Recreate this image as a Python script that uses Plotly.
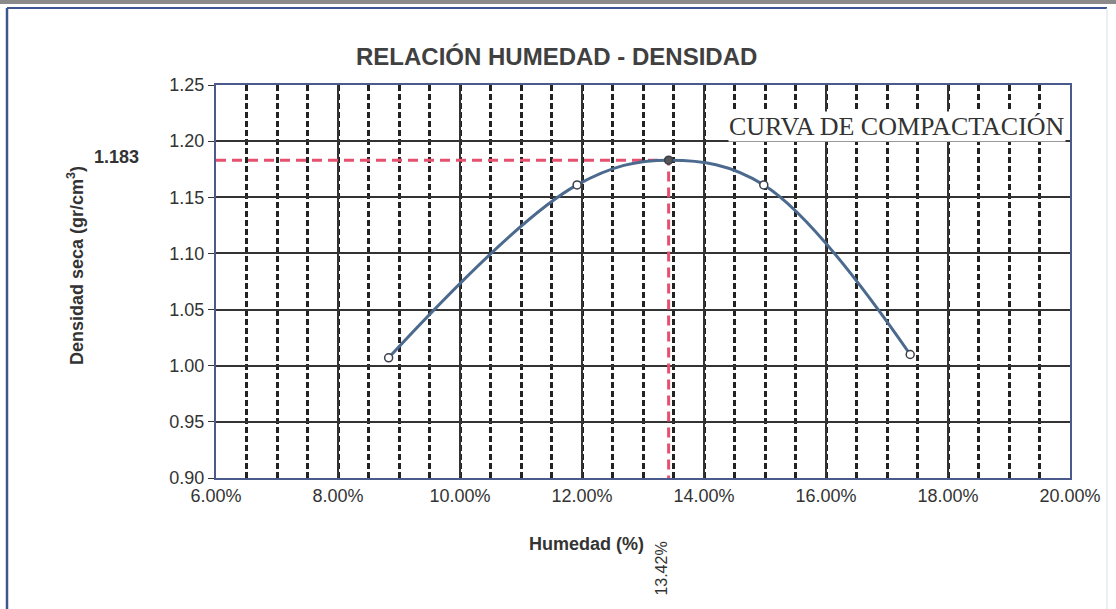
import plotly.graph_objects as go

# Data
humedad = [0.0883, 0.1192, 0.1342, 0.1498, 0.1738]
densidad = [1.007, 1.161, 1.183, 1.161, 1.010]
opt_humedad = 0.1342
max_densidad = 1.183
x_ticks = [0.06, 0.08, 0.10, 0.12, 0.14, 0.16, 0.18, 0.20]
y_ticks = [0.90, 0.95, 1.00, 1.05, 1.10, 1.15, 1.20, 1.25]

W, H = 1116, 609
L, R, T, B = 216, 1070, 85, 478

def px(xp):
    return (xp - L) / (R - L)

def py(yp):
    return (B - yp) / (B - T)

FONT = "Liberation Sans, Arial"
TXT = "#333333"

fig = go.Figure()

# optimum reference lines
fig.add_trace(go.Scatter(
    x=[x_ticks[0], opt_humedad, opt_humedad],
    y=[max_densidad, max_densidad, y_ticks[0]],
    mode="lines",
    line=dict(color="#e8506e", width=3, dash="10px,6px"),
    hoverinfo="skip", showlegend=False))

# compaction curve
fig.add_trace(go.Scatter(
    x=humedad, y=densidad, mode="lines+markers",
    line=dict(color="#4b6a8e", width=3, shape="spline", smoothing=1.05),
    marker=dict(size=8, color=["white", "white", "#555555", "white", "white"],
                line=dict(color="#3a3f4a", width=1.5)),
    showlegend=False))

grid_col = "#333333"
fig.update_xaxes(
    range=[x_ticks[0], x_ticks[-1]], tickvals=x_ticks, tickformat=".2%",
    showgrid=True, gridcolor=grid_col, gridwidth=2,
    minor=dict(dtick=0.005, showgrid=True, gridcolor="#222222", gridwidth=2.5,
               griddash="6px,3px"),
    showline=True, linecolor="#4a5a8c", linewidth=2, mirror=True,
    ticks="", tickfont=dict(family=FONT, size=18, color=TXT),
    zeroline=False)
fig.update_yaxes(
    range=[y_ticks[0], y_ticks[-1]], tickvals=y_ticks, tickformat=".2f",
    showgrid=True, gridcolor=grid_col, gridwidth=2,
    showline=True, linecolor="#4a5a8c", linewidth=2, mirror=True,
    ticks="outside", ticklen=6, tickcolor=TXT,
    tickfont=dict(family=FONT, size=18, color=TXT),
    zeroline=False)

annotations = [
    dict(text="<b>RELACIÓN HUMEDAD - DENSIDAD</b>", xref="paper", yref="paper",
         x=px(556), y=py(56), showarrow=False, xanchor="center", yanchor="middle",
         font=dict(family=FONT, size=24, color="#404040")),
    dict(text="<b>Humedad (%)</b>", xref="paper", yref="paper",
         x=px(586), y=py(544), showarrow=False, xanchor="center", yanchor="middle",
         font=dict(family=FONT, size=18, color=TXT)),
    dict(text="<b>Densidad seca (gr/cm<sup>3</sup>)</b>", xref="paper", yref="paper",
         x=px(75), y=py(266), showarrow=False, xanchor="center", yanchor="middle",
         textangle=-90, font=dict(family=FONT, size=18, color=TXT)),
    dict(text="CURVA DE COMPACTACIÓN", xref="paper", yref="paper",
         x=px(1066), y=py(127), showarrow=False, xanchor="right", yanchor="middle",
         bgcolor="white", borderpad=0,
         font=dict(family="Liberation Serif, Times New Roman", size=26, color=TXT)),
    dict(text="<b>%.3f</b>" % max_densidad, xref="paper", yref="paper",
         x=px(116), y=py(157), showarrow=False, xanchor="center", yanchor="middle",
         font=dict(family=FONT, size=18, color=TXT)),
    dict(text="%.2f%%" % (opt_humedad * 100), xref="x", yref="paper",
         x=opt_humedad, y=py(569), xshift=-8, showarrow=False, textangle=-90,
         xanchor="center", yanchor="middle",
         font=dict(family=FONT, size=16, color=TXT)),
]

shapes = [
    # scan strip at top
    dict(type="rect", xref="paper", yref="paper", x0=px(0), x1=px(W), y0=py(0), y1=py(4),
         fillcolor="#8a8a8a", line=dict(width=0), layer="below"),
    # outer frame
    dict(type="line", xref="paper", yref="paper", x0=px(7), x1=px(1107), y0=py(8), y1=py(8),
         line=dict(color="#3d5590", width=2)),
    dict(type="line", xref="paper", yref="paper", x0=px(7), x1=px(7), y0=py(8), y1=py(612),
         line=dict(color="#3d5590", width=2.5)),
    dict(type="line", xref="paper", yref="paper", x0=px(1107), x1=px(1107), y0=py(8), y1=py(612),
         line=dict(color="#d8e0ea", width=1)),
]

fig.update_layout(
    width=W, height=H,
    margin=dict(l=L, r=W - R, t=T, b=H - B),
    paper_bgcolor="white", plot_bgcolor="white",
    annotations=annotations, shapes=shapes,
    showlegend=False,
)

fig.write_html("out.html", config={"displayModeBar": False},
               post_script="document.body.style.margin='0';document.body.style.overflow='hidden';")
